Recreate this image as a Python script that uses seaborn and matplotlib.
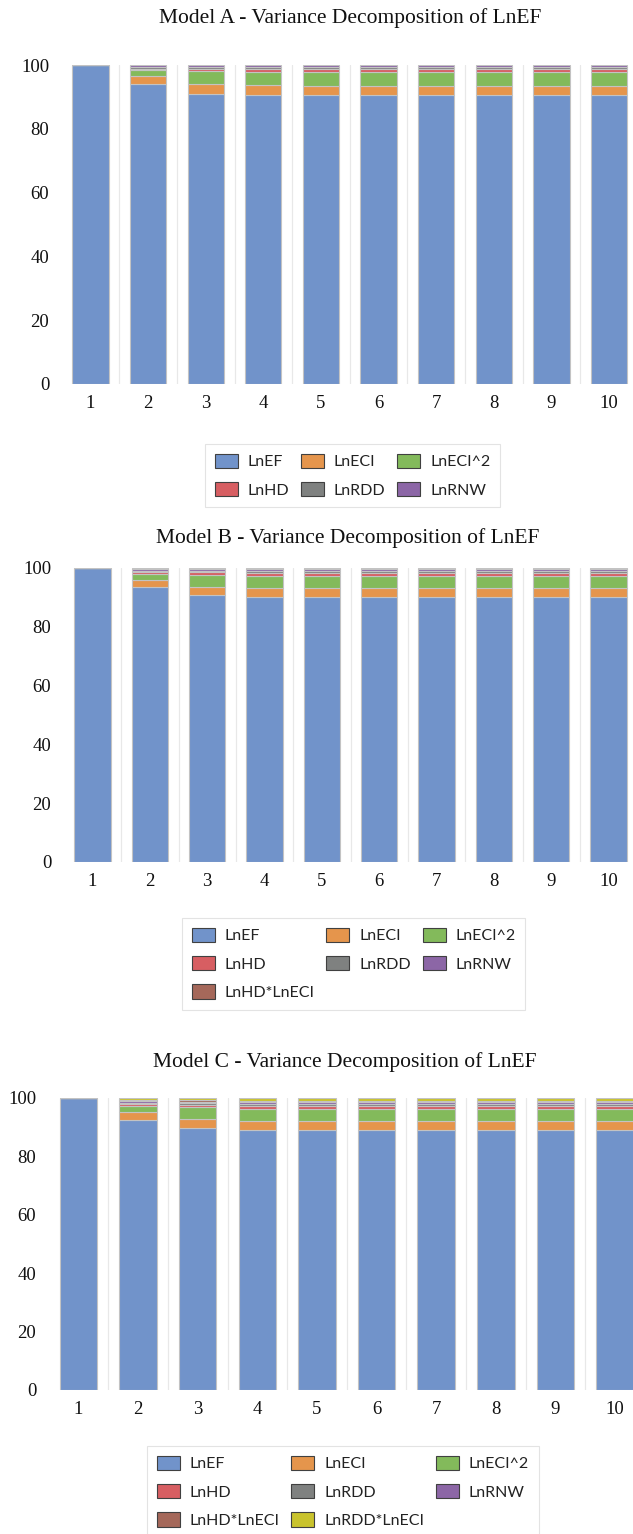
import pandas as pd
import matplotlib
matplotlib.use("Agg")
import matplotlib.pyplot as plt
from matplotlib.patches import Patch
from matplotlib.ticker import FixedLocator
import seaborn as sns

sns.set_style("white")

W, H = 633, 1534

periods = [1, 2, 3, 4, 5, 6, 7, 8, 9, 10]

colors = {
    "LnEF": "#7193ca",
    "LnECI": "#e5954c",
    "LnECI^2": "#83ba5b",
    "LnHD": "#d75e62",
    "LnRDD": "#7f8180",
    "LnRNW": "#8c66a6",
    "LnHD*LnECI": "#a5685a",
    "LnRDD*LnECI": "#c9c32d",
}

# Model A (LnEF, LnECI, LnECI^2, LnHD, LnRDD, LnRNW)
vars_a = ["LnEF", "LnECI", "LnECI^2", "LnHD", "LnRDD", "LnRNW"]
a_lnef = [100, 94.0, 91.0, 90.6, 90.5, 90.5, 90.5, 90.5, 90.5, 90.5]
a_lneci = [0, 2.5, 3.0, 3.0, 3.0, 3.0, 3.0, 3.0, 3.0, 3.0]
a_lneci2 = [0, 1.8, 4.0, 4.2, 4.3, 4.3, 4.3, 4.3, 4.3, 4.3]
a_lnhd = [0, 0.6, 0.8, 0.9, 0.9, 0.9, 0.9, 0.9, 0.9, 0.9]
a_lnrdd = [0, 0.5, 0.5, 0.6, 0.6, 0.6, 0.6, 0.6, 0.6, 0.6]
a_lnrnw = [0, 0.6, 0.7, 0.7, 0.7, 0.7, 0.7, 0.7, 0.7, 0.7]

# Model B (adds LnHD*LnECI)
vars_b = vars_a + ["LnHD*LnECI"]
b_lnef = [100, 93.5, 90.7, 90.2, 90.2, 90.2, 90.2, 90.2, 90.2, 90.2]
b_lneci = [0, 2.5, 3.0, 3.0, 3.0, 3.0, 3.0, 3.0, 3.0, 3.0]
b_lneci2 = [0, 2.0, 4.0, 4.2, 4.2, 4.2, 4.2, 4.2, 4.2, 4.2]
b_lnhd = [0, 0.6, 0.8, 0.9, 0.9, 0.9, 0.9, 0.9, 0.9, 0.9]
b_lnrdd = [0, 0.5, 0.5, 0.6, 0.6, 0.6, 0.6, 0.6, 0.6, 0.6]
b_lnrnw = [0, 0.5, 0.6, 0.7, 0.7, 0.7, 0.7, 0.7, 0.7, 0.7]
b_lnhd_eci = [0, 0.4, 0.4, 0.4, 0.4, 0.4, 0.4, 0.4, 0.4, 0.4]

# Model C (adds LnRDD*LnECI)
vars_c = vars_b + ["LnRDD*LnECI"]
c_lnef = [100, 92.5, 89.8, 89.2, 89.2, 89.2, 89.2, 89.2, 89.2, 89.2]
c_lneci = [0, 2.8, 3.0, 3.0, 3.0, 3.0, 3.0, 3.0, 3.0, 3.0]
c_lneci2 = [0, 2.0, 4.0, 4.2, 4.2, 4.2, 4.2, 4.2, 4.2, 4.2]
c_lnhd = [0, 0.6, 0.8, 0.9, 0.9, 0.9, 0.9, 0.9, 0.9, 0.9]
c_lnrdd = [0, 0.5, 0.6, 0.6, 0.6, 0.6, 0.6, 0.6, 0.6, 0.6]
c_lnrnw = [0, 0.5, 0.6, 0.8, 0.8, 0.8, 0.8, 0.8, 0.8, 0.8]
c_lnhd_eci = [0, 0.3, 0.4, 0.4, 0.4, 0.4, 0.4, 0.4, 0.4, 0.4]
c_lnrdd_eci = [0, 0.8, 0.8, 0.9, 0.9, 0.9, 0.9, 0.9, 0.9, 0.9]

models = [
    ("Model A - Variance Decomposition of LnEF", vars_a,
     [a_lnef, a_lneci, a_lneci2, a_lnhd, a_lnrdd, a_lnrnw]),
    ("Model B - Variance Decomposition of LnEF", vars_b,
     [b_lnef, b_lneci, b_lneci2, b_lnhd, b_lnrdd, b_lnrnw, b_lnhd_eci]),
    ("Model C - Variance Decomposition of LnEF", vars_c,
     [c_lnef, c_lneci, c_lneci2, c_lnhd, c_lnrdd, c_lnrnw, c_lnhd_eci, c_lnrdd_eci]),
]

# layout in pixels: (x of period 1 centre, x of period 10 centre, top, bottom, title y, title x)
layout = [
    (90.5, 609.0, 65, 384, 18, 350),
    (92.5, 608.5, 568, 862, 538, 348),
    (78.5, 615.0, 1098, 1390, 1062, 345),
]
# legend top-left corner in pixels
leg_pos = [(205, 444), (182, 918), (147, 1446)]

fig = plt.figure(figsize=(W / 100, H / 100), dpi=100)

for (title, names, series), (c1, c10, top, bot, ty, tx), (lx, ly) in zip(models, layout, leg_pos):
    step = (c10 - c1) / 9
    left = c1 - step / 2
    ax = fig.add_axes([left / W, 1 - bot / H, step * 10 / W, (bot - top) / H])

    df = pd.DataFrame({
        "period": [p for _ in names for p in periods],
        "var": [n for n in names for _ in periods],
        "value": [v for s in series for v in s],
    })
    # seaborn stacks the last hue level at the bottom
    sns.histplot(data=df, x="period", weights="value", hue="var",
                 hue_order=names[::-1], palette=colors, multiple="stack",
                 discrete=True, shrink=0.63, alpha=1, edgecolor="#c3c3c3",
                 linewidth=0.8, legend=False, ax=ax)

    ax.set_xlim(0.5, 10.5)
    ax.set_ylim(0, 100)
    ax.set_xticks(periods)
    ax.set_yticks([0, 20, 40, 60, 80, 100])
    ax.xaxis.set_minor_locator(FixedLocator([p + 0.5 for p in periods[:-1]]))
    ax.grid(True, which="minor", axis="x", color="#e8e8e8", linewidth=0.9)
    ax.set_axisbelow(True)
    ax.set_xlabel("")
    ax.set_ylabel("")
    for sp in ax.spines.values():
        sp.set_visible(False)
    ax.tick_params(axis="both", which="both", length=0, labelsize=13.5)
    ax.tick_params(axis="y", pad=9)
    ax.tick_params(axis="x", pad=8)
    for lab in ax.get_xticklabels() + ax.get_yticklabels():
        lab.set_fontfamily("Liberation Serif")
        lab.set_color("#111111")

    fig.text(tx / W, 1 - ty / H, title, ha="center", va="center",
             fontsize=15.5, family="Liberation Serif", color="#111111")

    # legend reads row-wise in the reference; matplotlib fills column-wise
    ncol = 3
    nrows = -(-len(names) // ncol)
    order = []
    for c in range(ncol):
        for r in range(nrows):
            i = r * ncol + c
            if i < len(names):
                order.append(names[i])
    handles = [Patch(facecolor=colors[n], edgecolor="#404040", linewidth=0.8, label=n) for n in order]
    leg = fig.legend(handles=handles, ncol=ncol, loc="upper left",
                     bbox_to_anchor=(lx / W, 1 - ly / H), borderaxespad=0,
                     frameon=True, fancybox=False, edgecolor="#dcdcdc",
                     prop={"family": "Lato", "size": 11.5},
                     handlelength=1.45, handleheight=1.0, handletextpad=0.6,
                     columnspacing=0.75, labelspacing=0.8, borderpad=0.6)
    leg.get_frame().set_linewidth(0.8)
    for t in leg.get_texts():
        t.set_color("#222222")

fig.savefig("out.png", dpi=100)
